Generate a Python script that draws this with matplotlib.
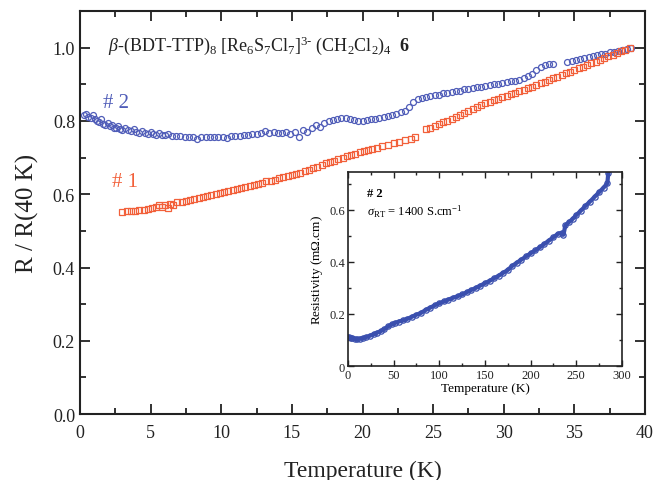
import matplotlib
matplotlib.use("Agg")
import matplotlib.pyplot as plt
from matplotlib.ticker import MultipleLocator, FixedLocator, FixedFormatter

plt.rcParams['font.family'] = ['Liberation Serif', 'DejaVu Serif']
plt.rcParams['mathtext.fontset'] = 'custom'
plt.rcParams['mathtext.rm'] = 'Liberation Serif'
plt.rcParams['mathtext.it'] = 'Liberation Serif:italic'
plt.rcParams['mathtext.bf'] = 'Liberation Serif:bold'

# ---- data: sample #1 (normalised, red squares) ----
t1 = [3.0, 3.3, 3.6, 3.9, 4.2, 4.5, 4.8, 5.1, 5.4, 5.6, 5.8, 6.0, 6.2, 6.4, 6.6, 6.9,
      7.2, 7.5, 7.8, 8.1, 8.4, 8.7, 9.0, 9.3, 9.6, 9.9, 10.2, 10.5, 10.8, 11.1, 11.4,
      11.7, 12.0, 12.3, 12.6, 12.9, 13.2, 13.5, 13.8, 14.1, 14.4, 14.7, 15.0, 15.3,
      15.6, 15.9, 16.2, 16.5, 16.8, 17.1, 17.4, 17.7, 18.0, 18.3, 18.6, 18.9, 19.2,
      19.5, 19.8, 20.1, 20.4, 20.7, 21.0, 21.4, 21.8, 22.2, 22.6, 23.0, 23.4, 23.7,
      24.5, 24.8, 25.1, 25.4, 25.7, 26.0, 26.3, 26.6, 26.9, 27.2, 27.5, 27.8, 28.1,
      28.4, 28.7, 29.0, 29.3, 29.6, 29.9, 30.2, 30.5, 30.8, 31.1, 31.4, 31.7, 32.0,
      32.3, 32.6, 32.9, 33.2, 33.5, 33.8, 34.1, 34.4, 34.7, 35.0, 35.3, 35.6, 35.9,
      36.2, 36.5, 36.8, 37.1, 37.4, 37.7, 38.0, 38.3, 38.6, 38.9]
r1 = [0.552, 0.553, 0.554, 0.555, 0.556, 0.558, 0.560, 0.562, 0.565, 0.572, 0.566,
      0.570, 0.563, 0.574, 0.571, 0.578, 0.580, 0.582, 0.585, 0.588, 0.590, 0.593,
      0.596, 0.598, 0.601, 0.604, 0.606, 0.609, 0.612, 0.615, 0.617, 0.620, 0.623,
      0.626, 0.629, 0.632, 0.635, 0.637, 0.640, 0.643, 0.646, 0.649, 0.652, 0.656,
      0.659, 0.663, 0.667, 0.671, 0.675, 0.679, 0.684, 0.688, 0.692, 0.696, 0.700,
      0.704, 0.707, 0.711, 0.714, 0.718, 0.721, 0.724, 0.727, 0.731, 0.735, 0.739,
      0.743, 0.748, 0.752, 0.756,
      0.778, 0.782, 0.787, 0.792, 0.797, 0.801, 0.806, 0.811, 0.816, 0.822, 0.828,
      0.833, 0.839, 0.844, 0.848, 0.852, 0.856, 0.861, 0.865, 0.869, 0.873, 0.877,
      0.881, 0.885, 0.889, 0.894, 0.898, 0.903, 0.907, 0.912, 0.916, 0.921, 0.925,
      0.930, 0.934, 0.939, 0.944, 0.948, 0.953, 0.958, 0.962, 0.967, 0.971, 0.976,
      0.981, 0.986, 0.990, 0.995, 1.000]

# ---- data: sample #2 (normalised, blue circles) ----
t2 = [0.3, 0.45, 0.6, 0.75, 0.9, 1.05, 1.2, 1.35, 1.5, 1.65, 1.8, 1.95, 2.1, 2.25,
      2.4, 2.55, 2.7, 2.85, 3.0, 3.2, 3.4, 3.6, 3.8, 4.0, 4.2, 4.4, 4.6, 4.8, 5.0,
      5.2, 5.4, 5.6, 5.8, 6.0, 6.2, 6.5, 6.8, 7.1, 7.4, 7.7, 8.0, 8.3, 8.6, 8.9,
      9.2, 9.5, 9.8, 10.1, 10.4, 10.7, 11.0, 11.3, 11.6, 11.9, 12.2, 12.5, 12.8,
      13.1, 13.4, 13.7, 14.0, 14.3, 14.6, 14.9, 15.2, 15.5, 15.8, 16.1, 16.4, 16.7,
      17.0, 17.3, 17.6, 17.9, 18.2, 18.5, 18.8, 19.1, 19.4, 19.7, 20.0, 20.3, 20.6,
      20.9, 21.2, 21.5, 21.8, 22.1, 22.4, 22.7, 23.0, 23.3, 23.6, 23.9, 24.2, 24.5,
      24.8, 25.1, 25.4, 25.7, 26.0, 26.3, 26.6, 26.9, 27.2, 27.5, 27.8, 28.1, 28.4,
      28.7, 29.0, 29.3, 29.6, 29.9, 30.2, 30.5, 30.8, 31.1, 31.4, 31.7, 32.0, 32.3,
      32.6, 32.9, 33.2, 33.5,
      34.5, 34.8, 35.1, 35.4, 35.7, 36.0, 36.3, 36.6, 36.9, 37.2, 37.5, 37.8, 38.1,
      38.4, 38.7, 39.0]
r2 = [0.815, 0.818, 0.812, 0.808, 0.815, 0.805, 0.800, 0.797, 0.806, 0.792, 0.790,
      0.795, 0.785, 0.788, 0.782, 0.780, 0.786, 0.778, 0.776, 0.781, 0.774, 0.772,
      0.777, 0.770, 0.768, 0.773, 0.767, 0.765, 0.769, 0.764, 0.763, 0.767, 0.762,
      0.761, 0.764, 0.759, 0.758, 0.758, 0.757, 0.757, 0.756, 0.751, 0.756, 0.757,
      0.757, 0.757, 0.756, 0.757, 0.753, 0.758, 0.759, 0.760, 0.761, 0.763, 0.764,
      0.765, 0.768, 0.772, 0.768, 0.771, 0.766, 0.767, 0.770, 0.764, 0.770, 0.757,
      0.774, 0.769, 0.780, 0.790, 0.784, 0.794, 0.799, 0.802, 0.806, 0.809, 0.809,
      0.805, 0.803, 0.800, 0.800, 0.802, 0.804, 0.806, 0.807, 0.810, 0.813, 0.816,
      0.820, 0.824, 0.828, 0.838, 0.852, 0.860, 0.863, 0.866, 0.868, 0.870, 0.872,
      0.875, 0.877, 0.879, 0.881, 0.883, 0.886, 0.888, 0.890, 0.892, 0.894, 0.896,
      0.898, 0.900, 0.902, 0.904, 0.906, 0.908, 0.910, 0.912, 0.916, 0.922, 0.928,
      0.940, 0.948, 0.953, 0.955, 0.956,
      0.962, 0.964, 0.967, 0.970, 0.973, 0.975, 0.977, 0.980, 0.982, 0.984, 0.987,
      0.989, 0.991, 0.994, 0.996, 0.998]

# ---- inset: resistivity of #2 (mOhm.cm) vs T (K) ----
t_in = [1, 3, 5, 8, 10, 13, 16, 20, 24, 28, 32, 36, 40, 44, 48, 52, 56, 60, 65, 70,
        75, 80, 85, 90, 95, 100, 105, 110, 115, 120, 125, 130, 135, 140, 145, 150,
        155, 160, 165, 170, 175, 180, 185, 190, 195, 200, 205, 210, 215, 220, 225,
        230, 234, 236, 238, 242, 246, 250, 255, 260, 265, 270, 275, 280, 284, 285]
rho_in = [0.112, 0.108, 0.106, 0.104, 0.104, 0.105, 0.107, 0.111, 0.116, 0.122,
          0.128, 0.134, 0.142, 0.152, 0.160, 0.166, 0.171, 0.175, 0.181, 0.189,
          0.197, 0.204, 0.215, 0.224, 0.233, 0.241, 0.248, 0.255, 0.262, 0.268,
          0.275, 0.283, 0.292, 0.300, 0.309, 0.318, 0.327, 0.337, 0.347, 0.358,
          0.369, 0.385, 0.397, 0.409, 0.421, 0.433, 0.444, 0.456, 0.469, 0.482,
          0.495, 0.508, 0.512, 0.505, 0.540, 0.553, 0.565, 0.580, 0.597, 0.615,
          0.632, 0.650, 0.668, 0.686, 0.702, 0.740]

blue = '#4f5cb8'
red = '#f2603a'
blue_in = '#3a4fae'

fig = plt.figure(figsize=(6.54, 4.81), dpi=100)
ax = fig.add_axes([0.1223, 0.137, 0.864, 0.838])

ax.plot(t2, r2, 'o', mfc='none', mec=blue, ms=4.3, mew=0.9)
ax.plot(t1, r1, 's', mfc='none', mec=red, ms=4.3, mew=0.9)

ax.set_xlim(0, 40)
ax.set_ylim(0, 1.1)
ax.xaxis.set_major_locator(MultipleLocator(5))
ax.xaxis.set_minor_locator(MultipleLocator(2.5))
ax.yaxis.set_major_locator(FixedLocator([0, 0.2, 0.4, 0.6, 0.8, 1.0]))
ax.yaxis.set_major_formatter(FixedFormatter(['0.0', '0.2', '0.4', '0.6', '0.8', '1.0']))
ax.yaxis.set_minor_locator(FixedLocator([0.1, 0.3, 0.5, 0.7, 0.9]))
ax.tick_params(which='both', direction='in', top=True, right=True, width=1.3,
               labelsize=13, colors='#222222')
ax.tick_params(which='major', length=7)
ax.tick_params(which='minor', length=4)
ax.tick_params(axis='x', pad=7)
for s in ax.spines.values():
    s.set_linewidth(1.5)
    s.set_color('#222222')

ax.set_xlabel('Temperature (K)', fontsize=17, labelpad=14, color='#222222')
ax.set_ylabel('R / R(40 K)', fontsize=18, labelpad=10, color='#222222')

ax.text(2.0, 1.008,
        r'$\it{\beta}$-(BDT-TTP)$_8$ [Re$_6$S$_7$Cl$_7$]$^{3\text{-}}$ (CH$_2$Cl$_2$)$_4$  $\mathbf{6}$',
        fontsize=13, va='center', ha='left', color='#222222')
ax.text(1.6, 0.85, '# 2', color=blue, fontsize=15, va='center')
ax.text(2.3, 0.635, '# 1', color=red, fontsize=15, va='center')

# inset
axi = fig.add_axes([0.532, 0.237, 0.419, 0.403])
axi.plot(t_in, rho_in, '-', color=blue_in, lw=3.0)
axi.plot(t_in, rho_in, 'o', mfc='none', mec=blue_in, ms=3.8, mew=0.9)
axi.set_xlim(0, 300)
axi.set_ylim(0, 0.745)
axi.xaxis.set_major_locator(MultipleLocator(50))
axi.xaxis.set_minor_locator(MultipleLocator(25))
axi.yaxis.set_major_locator(FixedLocator([0, 0.2, 0.4, 0.6]))
axi.yaxis.set_major_formatter(FixedFormatter(['0', '0.2', '0.4', '0.6']))
axi.yaxis.set_minor_locator(FixedLocator([0.1, 0.3, 0.5, 0.7]))
axi.tick_params(which='both', direction='in', top=True, right=True, width=1.0,
                labelsize=9, colors='#222222', pad=2)
axi.tick_params(which='major', length=4.5)
axi.tick_params(which='minor', length=2.5)
for s in axi.spines.values():
    s.set_linewidth(1.2)
    s.set_color('#222222')
axi.set_xlabel('Temperature (K)', fontsize=9.5, labelpad=1)
axi.set_ylabel(r'Resistivity (m$\Omega$.cm)', fontsize=9.5, labelpad=3)
axi.text(0.07, 0.895, '# 2', transform=axi.transAxes, fontsize=9, fontweight='bold',
         va='center')
axi.text(0.07, 0.80, r'$\sigma_{\rm RT}$ = 1400 S.cm$^{-1}$', transform=axi.transAxes,
         fontsize=9, va='center')

fig.savefig('out.png', dpi=100)
